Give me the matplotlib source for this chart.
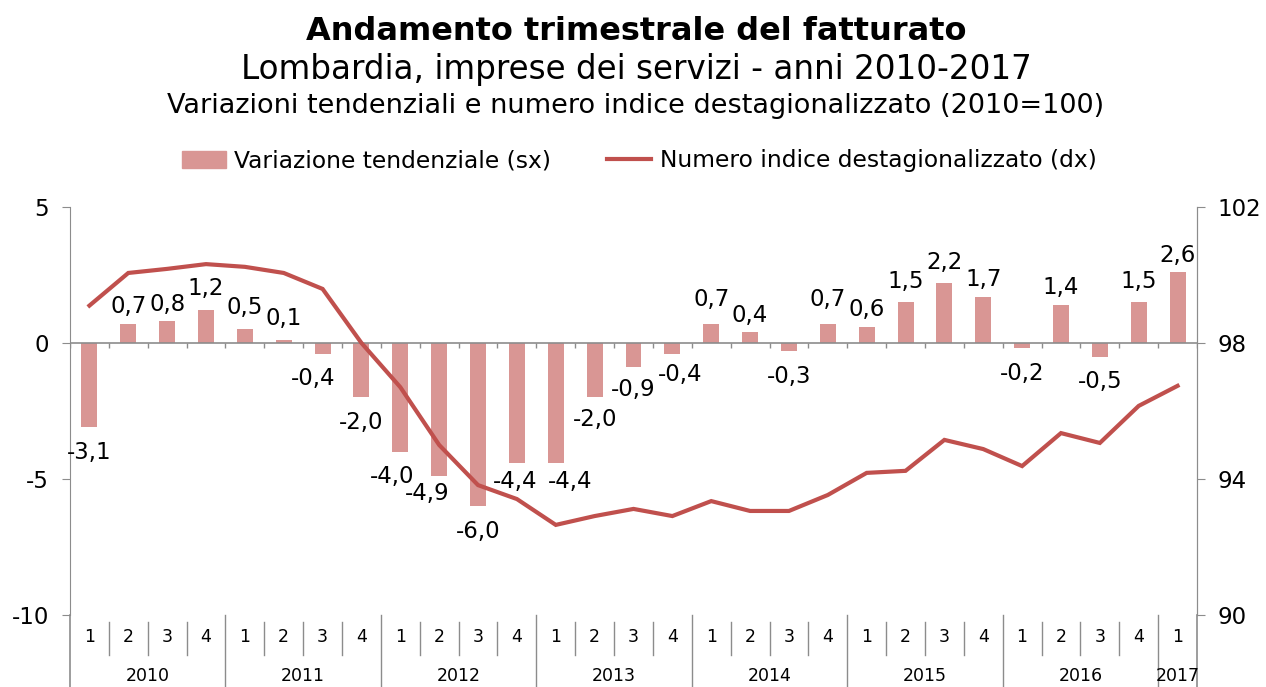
import numpy as np
import matplotlib
matplotlib.use("Agg")
import matplotlib.pyplot as plt
from matplotlib import transforms
from matplotlib.patches import Patch
from matplotlib.lines import Line2D

plt.rcParams['font.family'] = ['DejaVu Sans']
plt.rcParams['axes.unicode_minus'] = False

years = ['2010', '2011', '2012', '2013', '2014', '2015', '2016', '2017']
quarters = ['1', '2', '3', '4'] * 7 + ['1']
variazione = [-3.1, 0.7, 0.8, 1.2, 0.5, 0.1, -0.4, -2.0,
              -4.0, -4.9, -6.0, -4.4, -4.4, -2.0, -0.9, -0.4,
              0.7, 0.4, -0.3, 0.7, 0.6, 1.5, 2.2, 1.7,
              -0.2, 1.4, -0.5, 1.5, 2.6]
indice = [99.1, 100.06, 100.18, 100.32, 100.24, 100.06, 99.59, 98.0,
          96.7, 95.0, 93.82, 93.41, 92.65, 92.91, 93.12, 92.91,
          93.35, 93.06, 93.06, 93.53, 94.18, 94.24, 95.15, 94.88,
          94.38, 95.35, 95.06, 96.15, 96.74]

bar_col = '#D99694'
line_col = '#C0504D'
grey = '#8C8C8C'

n = len(variazione)
x = np.arange(n)

fig = plt.figure(figsize=(12.66, 6.87), dpi=100)
ax = fig.add_axes([70/1266, 1-615/687, 1127/1266, 408/687])
ax.bar(x, variazione, width=0.41, color=bar_col, zorder=2)
ax.set_xlim(-0.5, n-0.5)
ax.set_ylim(-10, 5)
ax.set_yticks([-10, -5, 0, 5])
ax.set_yticklabels(['-10', '-5', '0', '5'])
ax.set_xticks([])
for s in ['top', 'bottom']:
    ax.spines[s].set_visible(False)
for s in ['left', 'right']:
    ax.spines[s].set_color(grey)
ax.tick_params(axis='y', colors=grey, labelcolor='black', labelsize=16.5, length=6, pad=9)
ax.axhline(0, color=grey, lw=1.2, zorder=3)
ax.vlines(np.arange(n+1) - 0.5, 0, -0.2, color=grey, lw=1, zorder=3)

# data labels, nudge = (right, up) in pixels
nudge = {6: (-9, 0), 8: (-8, 0), 9: (-12, 8), 11: (-2, 6), 12: (14, 6),
         13: (0, 3), 14: (0, 3), 15: (8, 4), 16: (0, 7), 19: (0, 7),
         21: (0, 4), 22: (0, 4), 27: (0, 4), 3: (0, 5), 4: (0, 5), 5: (0, 5)}
for i, v in enumerate(variazione):
    lab = ('%.1f' % v).replace('.', ',')
    dx, dy = nudge.get(i, (0, 0))
    oy = 17 if v >= 0 else -25
    ax.annotate(lab, (i, v), xytext=(dx, oy + dy), textcoords='offset pixels',
                ha='center', va='center', fontsize=16.5, zorder=5)

# category table under the plot
tr = transforms.blended_transform_factory(ax.transData, ax.transAxes)
for i, q in enumerate(quarters):
    ax.text(i, -0.054, q, transform=tr, ha='center', va='center', fontsize=12.5)
for b in range(1, n):
    if b % 4 == 0:
        ax.plot([b-0.5, b-0.5], [0, -0.2], transform=tr, color=grey, lw=1, clip_on=False)
    else:
        ax.plot([b-0.5, b-0.5], [-0.017, -0.098], transform=tr, color=grey, lw=1, clip_on=False)
for e in [-0.5, n-0.5]:
    ax.plot([e, e], [0, -0.2], transform=tr, color=grey, lw=1.2, clip_on=False)
for k, y in enumerate(years):
    c = 4*k + 1.5 if k < 7 else 28
    ax.text(c, -0.150, y, transform=tr, ha='center', va='center', fontsize=12.5)

ax2 = ax.twinx()
ax2.plot(x, indice, color=line_col, lw=3, zorder=4, solid_joinstyle='miter')
ax2.set_ylim(90, 102)
ax2.set_yticks([90, 94, 98, 102])
ax2.set_xlim(-0.5, n-0.5)
for s in ['top', 'bottom', 'left']:
    ax2.spines[s].set_visible(False)
ax2.spines['right'].set_color(grey)
ax2.tick_params(axis='y', colors=grey, labelcolor='black', labelsize=16.5, length=6, pad=9)

fig.text(636/1266, 1-31/687, 'Andamento trimestrale del fatturato', ha='center', va='center',
         fontsize=23, fontweight='bold')
fig.text(636/1266, 1-70/687, 'Lombardia, imprese dei servizi - anni 2010-2017', ha='center',
         va='center', fontsize=23.5)
fig.text(636/1266, 1-106/687, 'Variazioni tendenziali e numero indice destagionalizzato (2010=100)',
         ha='center', va='center', fontsize=19.5)

handles = [Patch(color=bar_col), Line2D([0], [0], color=line_col, lw=3)]
fig.legend(handles, ['Variazione tendenziale (sx)', 'Numero indice destagionalizzato (dx)'],
           loc='center', bbox_to_anchor=(639/1266, 1-161/687), ncol=2, frameon=False,
           fontsize=16.8, handlelength=1.9, handletextpad=0.35, columnspacing=2.4)

fig.savefig('out.png', dpi=100)
